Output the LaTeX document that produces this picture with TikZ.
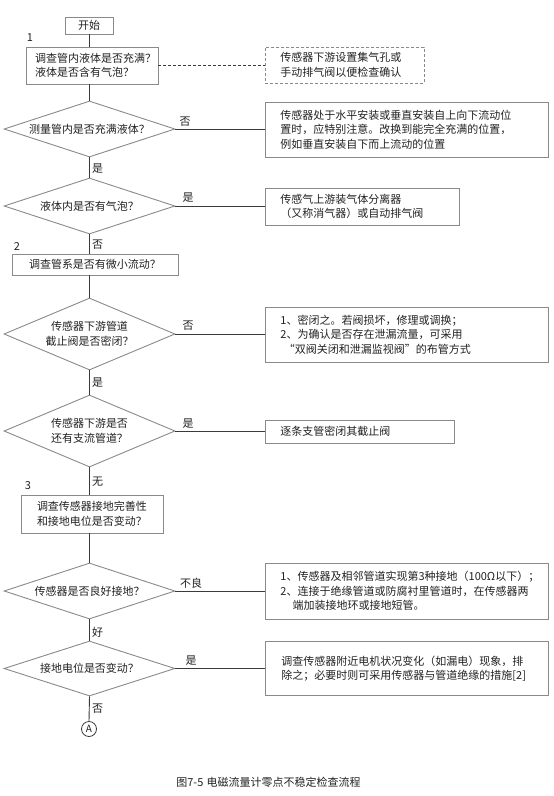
\documentclass[tikz,border=0pt]{standalone}
\usepackage{fontspec}
\setmainfont{Noto Sans CJK SC}
\usetikzlibrary{shapes.geometric}
\definecolor{boxgray}{HTML}{8A8A8A}
\definecolor{linegray}{HTML}{3A3A3A}
\definecolor{txt}{HTML}{222222}
\begin{document}
\begin{tikzpicture}[x=1pt,y=-1pt,
  every node/.style={text=txt, font=\fontsize{11}{14.5}\selectfont},
  procbox/.style={draw=boxgray, line width=0.9pt, rectangle, inner sep=0pt, align=center},
  infobox/.style={draw=boxgray, line width=0.9pt, rectangle, inner xsep=15pt, inner ysep=0pt, align=left, anchor=west},
  notebox/.style={infobox, dash pattern=on 3pt off 2pt},
  decision/.style={diamond, draw=boxgray, line width=0.9pt, inner sep=0pt, aspect=3, align=center, minimum width=171pt},
  conn/.style={draw=linegray, line width=0.9pt},
  lbl/.style={inner sep=0pt}
]
\useasboundingbox[fill=white] (0,0) rectangle (554,796);

% main column
\node[procbox, minimum width=48pt, minimum height=17pt] (start) at (89,25.5) {开始};
\node[procbox, align=left, text width=114pt, minimum width=132pt, minimum height=37pt] (b1) at (92,65.5) {调查管内液体是否充满？\\液体是否含有气泡？};
\node[decision, minimum height=56pt] (d1) at (89.5,129) {测量管内是否充满液体？};
\node[decision, minimum height=56pt] (d2) at (89.5,206) {液体内是否有气泡？};
\node[procbox, minimum width=166pt, minimum height=21pt] (b4) at (95,264.5) {调查管系是否有微小流动？};
\node[decision, minimum height=72pt] (d3) at (89.5,334) {传感器下游管道\\截止阀是否密闭？};
\node[decision, minimum height=72pt] (d4) at (89.5,431) {传感器下游是否\\还有支流管道？};
\node[procbox, minimum width=142pt, minimum height=38pt] (b7) at (92,514) {调查传感器接地完善性\\和接地电位是否变动？};
\node[decision, minimum height=56pt] (d5) at (89.5,591) {传感器是否良好接地？};
\node[decision, minimum height=55pt] (d6) at (89.5,668.5) {接地电位是否变动？};
\node[circle, draw=linegray, line width=0.8pt, inner sep=0pt, minimum size=15pt, font=\fontsize{10}{12}\selectfont] (A) at (89,729) {A};

% right column
\node[notebox, text width=129pt, minimum height=36pt] (n1) at (265,65) {传感器下游设置集气孔或\\手动排气阀以便检查确认};
\node[infobox, text width=253pt, minimum height=55pt] (b2) at (265,129.5) {传感器处于水平安装或垂直安装自上向下流动位\\置时，应特别注意。改换到能完全充满的位置，\\例如垂直安装自下而上流动的位置};
\node[infobox, text width=164pt, minimum height=37pt] (b3) at (265,206.5) {传感气上游装气体分离器\\（又称消气器）或自动排气阀};
\node[infobox, text width=253pt, minimum height=55pt] (b5) at (265,334.5) {1、密闭之。若阀损坏，修理或调换；\\2、为确认是否存在泄漏流量，可采用\\\hspace*{0.3em}“双阀关闭和泄漏监视阀”的布管方式};
\node[infobox, text width=159pt, minimum height=23pt] (b6) at (265,431.5) {逐条支管密闭其截止阀};
\node[infobox, text width=253pt, minimum height=56pt] (b8) at (265,591) {1、传感器及相邻管道实现第3种接地（100Ω以下）；\\2、连接于绝缘管道或防腐衬里管道时，在传感器两\\\hspace*{1.1em}端加装接地环或接地短管。};
\node[infobox, inner xsep=16pt, text width=251pt, minimum height=54pt] (b9) at (265,668.5) {调查传感器附近电机状况变化（如漏电）现象，排\\除之；必要时则可采用传感器与管道绝缘的措施[2]};

% vertical connectors
\draw[conn] (start.south) -- (start.south |- b1.north);
\draw[conn] (b1.south -| d1.north) -- (d1.north);
\draw[conn] (d1.south) -- (d2.north);
\draw[conn] (d2.south) -- (d2.south |- b4.north);
\draw[conn] (b4.south -| d3.north) -- (d3.north);
\draw[conn] (d3.south) -- (d4.north);
\draw[conn] (d4.south) -- (d4.south |- b7.north);
\draw[conn] (b7.south -| d5.north) -- (d5.north);
\draw[conn] (d5.south) -- (d6.north);
\draw[conn] (d6.south) -- (A.north);

% horizontal connectors
\draw[conn, dash pattern=on 3pt off 2pt] (b1.east) -- (b1.east -| n1.west);
\draw[conn] (d1.east) -- (d1.east -| b2.west);
\draw[conn] (d2.east) -- (d2.east -| b3.west);
\draw[conn] (d3.east) -- (d3.east -| b5.west);
\draw[conn] (d4.east) -- (d4.east -| b6.west);
\draw[conn] (d5.east) -- (d5.east -| b8.west);
\draw[conn] (d6.east) -- (d6.east -| b9.west);

% branch labels
\node[lbl] (l1) at (185,122) {否};
\node[lbl] (l2) at (97.5,169) {是};
\node[lbl] (l3) at (188,198) {是};
\node[lbl] (l4) at (97.5,245) {否};
\node[lbl] (l5) at (188,326) {否};
\node[lbl] (l6) at (97.5,383) {是};
\node[lbl] (l7) at (188,424) {是};
\node[lbl] (l8) at (97.5,482) {无};
\node[lbl] (l9) at (191,583) {不良};
\node[lbl] (l10) at (97.5,632) {好};
\node[lbl] (l11) at (191,661) {是};
\node[lbl] (l12) at (97.5,709) {否};

% step numbers
\node[lbl] (s1) at (30,38) {1};
\node[lbl] (s2) at (17,247) {2};
\node[lbl] (s3) at (28,486) {3};

% caption
\node[lbl] (cap) at (268.5,782) {图7-5\hspace{0.3em}电磁流量计零点不稳定检查流程};
\end{tikzpicture}
\end{document}
